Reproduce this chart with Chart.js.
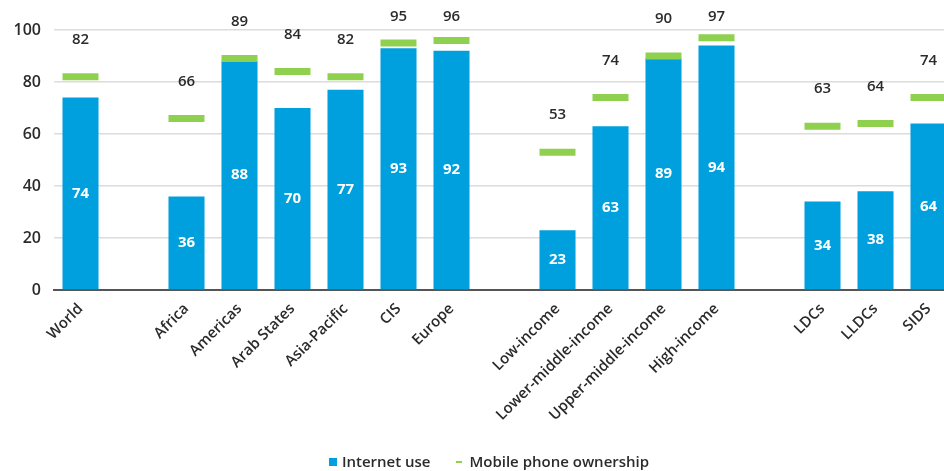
<!DOCTYPE html>
<html>
<head>
<meta charset="utf-8">
<script src="https://cdn.jsdelivr.net/npm/chart.js@4"></script>
<style>
    html, body { margin: 0; padding: 0; background: #fff; overflow: hidden; width: 944px; height: 471px; }
    #wrap { position: relative; width: 988px; height: 471px; }
    #legend { position: absolute; top: 451px; left: 0; width: 978px; text-align: center;
              font: 600 15px 'Open Sans', sans-serif; color: #2b2b2b; white-space: nowrap; }
    #legend span.item { display: inline-block; margin: 0 11px; }
    #legend i { display: inline-block; vertical-align: middle; margin-right: 5px; position: relative; top: -1px; }
</style>
</head>
<body>
<div id="wrap">
    <canvas id="chart" width="988" height="471"></canvas>
    <div id="legend"></div>
</div>
<script>
// --- datos ---
const categories = ['World', '', 'Africa', 'Americas', 'Arab States', 'Asia-Pacific', 'CIS', 'Europe', '',
    'Low-income', 'Lower-middle-income', 'Upper-middle-income', 'High-income', '',
    'LDCs', 'LLDCs', 'SIDS'];
const internetUse = [74, null, 36, 88, 70, 77, 93, 92, null, 23, 63, 89, 94, null, 34, 38, 64];
const mobileOwnership = [82, null, 66, 89, 84, 82, 95, 96, null, 53, 74, 90, 97, null, 63, 64, 74];
const yTicks = [0, 20, 40, 60, 80, 100];

const BLUE = '#009fdd';
const GREEN = '#8fd14f';
const FONT = "'Open Sans', sans-serif";

// etiquetas de valores
const valueLabels = {
    id: 'valueLabels',
    afterDatasetsDraw(chart) {
        const ctx = chart.ctx;
        ctx.save();
        ctx.textAlign = 'center';
        ctx.textBaseline = 'middle';

        // dentro de las barras
        ctx.font = `700 15px ${FONT}`;
        ctx.fillStyle = '#fff';
        chart.getDatasetMeta(1).data.forEach((bar, i) => {
            if (internetUse[i] == null) return;
            ctx.fillText(internetUse[i], bar.x, (bar.y + bar.base) / 2);
        });

        // encima de las marcas verdes
        ctx.font = `600 15px ${FONT}`;
        ctx.fillStyle = '#2b2b2b';
        chart.getDatasetMeta(0).data.forEach((pt, i) => {
            if (mobileOwnership[i] == null) return;
            ctx.fillText(mobileOwnership[i], pt.x, Math.max(pt.y - 37, 17));
        });
        ctx.restore();
    }
};

const chart = new Chart(document.getElementById('chart'), {
    type: 'bar',
    data: {
        labels: categories,
        datasets: [{
            type: 'line',
            label: 'Mobile phone ownership',
            data: mobileOwnership,
            showLine: false,
            pointStyle: 'line',
            pointRadius: 18,
            pointHoverRadius: 18,
            pointBorderWidth: 7,
            pointHoverBorderWidth: 7,
            pointBorderColor: GREEN,
            pointBackgroundColor: GREEN,
            borderColor: GREEN,
            order: 1
        }, {
            label: 'Internet use',
            data: internetUse,
            backgroundColor: BLUE,
            borderWidth: 0,
            categoryPercentage: 1,
            barPercentage: 0.68,
            order: 2
        }]
    },
    options: {
        responsive: false,
        animation: false,
        events: [],
        layout: { padding: { top: 30, right: 33, bottom: 10, left: 0 } },
        plugins: {
            legend: { display: false },
            tooltip: { enabled: false }
        },
        scales: {
            x: {
                grid: { display: false },
                border: { color: '#555', width: 2 },
                ticks: {
                    color: '#2b2b2b',
                    font: { family: FONT, size: 15, weight: '600' },
                    minRotation: 45,
                    maxRotation: 45,
                    autoSkip: false,
                    padding: 2
                },
                afterFit(scale) { scale.height = 171; }
            },
            y: {
                min: 0,
                max: 100,
                afterBuildTicks(scale) { scale.ticks = yTicks.map(v => ({ value: v })); },
                grid: { color: '#dcdcdc', lineWidth: 1.5, drawTicks: false },
                border: { display: false },
                ticks: {
                    color: '#2b2b2b',
                    font: { family: FONT, size: 16, weight: '600' },
                    padding: 13
                },
                afterFit(scale) { scale.width = 54; }
            }
        }
    },
    plugins: [valueLabels]
});

// leyenda
const legendDiv = document.getElementById('legend');
legendDiv.innerHTML = `
    <span class="item"><i style="width:8px;height:8px;background:${BLUE}"></i>${chart.data.datasets[1].label}</span>
    <span class="item"><i style="width:6px;height:2px;background:${GREEN};margin-right:7px"></i>${chart.data.datasets[0].label}</span>
`;
</script>
</body>
</html>
